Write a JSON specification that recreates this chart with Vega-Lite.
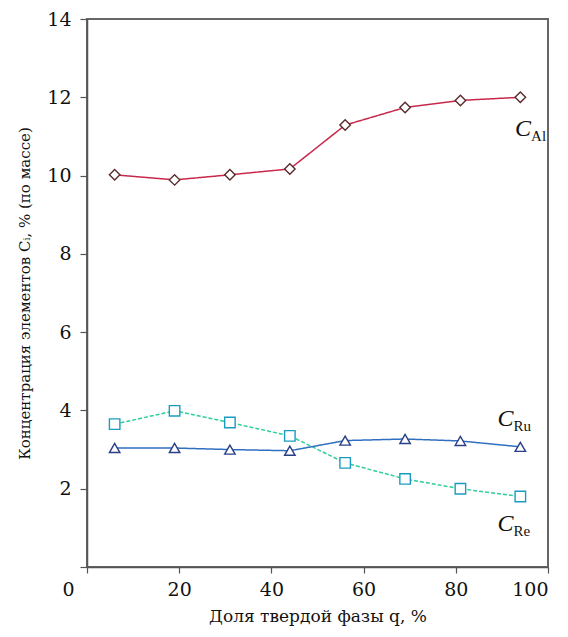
{
  "$schema": "https://vega.github.io/schema/vega-lite/v6.json",
  "width": 461,
  "height": 548,
  "autosize": "none",
  "padding": {"left": 87, "top": 19, "right": 20, "bottom": 70},
  "background": "white",
  "config": {
    "view": {"stroke": "#666666", "strokeWidth": 2},
    "axis": {
      "grid": false
    }
  },
  "datasets": {
    "series": [
      {"q": 6, "c": 10.02, "el": "Al"},
      {"q": 19, "c": 9.89, "el": "Al"},
      {"q": 31, "c": 10.02, "el": "Al"},
      {"q": 44, "c": 10.17, "el": "Al"},
      {"q": 56, "c": 11.29, "el": "Al"},
      {"q": 69, "c": 11.74, "el": "Al"},
      {"q": 81, "c": 11.92, "el": "Al"},
      {"q": 94, "c": 12.0, "el": "Al"},
      {"q": 6, "c": 3.65, "el": "Re"},
      {"q": 19, "c": 3.99, "el": "Re"},
      {"q": 31, "c": 3.69, "el": "Re"},
      {"q": 44, "c": 3.35, "el": "Re"},
      {"q": 56, "c": 2.66, "el": "Re"},
      {"q": 69, "c": 2.25, "el": "Re"},
      {"q": 81, "c": 2.0, "el": "Re"},
      {"q": 94, "c": 1.8, "el": "Re"},
      {"q": 6, "c": 3.04, "el": "Ru"},
      {"q": 19, "c": 3.04, "el": "Ru"},
      {"q": 31, "c": 3.0, "el": "Ru"},
      {"q": 44, "c": 2.97, "el": "Ru"},
      {"q": 56, "c": 3.23, "el": "Ru"},
      {"q": 69, "c": 3.27, "el": "Ru"},
      {"q": 81, "c": 3.22, "el": "Ru"},
      {"q": 94, "c": 3.07, "el": "Ru"}
    ],
    "labels": [
      {"q": 94.6, "c": 11.0, "main": "C", "sub": "Al"},
      {"q": 90.8, "c": 3.6, "main": "C", "sub": "Ru"},
      {"q": 90.8, "c": 0.92, "main": "C", "sub": "Re"}
    ]
  },
  "layer": [
    {
      "data": {"name": "series"},
      "mark": {"type": "line", "strokeWidth": 1.5},
      "encoding": {
        "x": {
          "field": "q", "type": "quantitative",
          "scale": {"domain": [0, 100], "nice": false},
          "axis": {
            "title": "Доля твердой фазы q, %",
            "values": [0, 20, 40, 60, 80, 100],
            "labelFont": "DejaVu Serif",
            "titleFont": "DejaVu Serif",
            "labelFontSize": 19,
            "titleFontSize": 17,
            "labelColor": "#111111",
            "titleColor": "#111111",
            "titleFontWeight": "normal",
            "domainColor": "#555555",
            "domainWidth": 1.5,
            "tickColor": "#555555",
            "tickWidth": 1.2,
            "tickSize": 6,
            "labelPadding": 7,
            "titlePadding": 9,
            "labelOffset": {"condition": {"test": "datum.value == 0", "value": -25}, "value": 0}
          }
        },
        "y": {
          "field": "c", "type": "quantitative",
          "scale": {"domain": [0, 14], "nice": false},
          "axis": {
            "title": "Концентрация элементов Cᵢ, % (по массе)",
            "values": [0, 2, 4, 6, 8, 10, 12, 14],
            "labelExpr": "datum.value == 0 ? '' : datum.label",
            "labelFont": "DejaVu Serif",
            "titleFont": "DejaVu Serif",
            "labelFontSize": 19,
            "titleFontSize": 15,
            "labelColor": "#111111",
            "titleColor": "#111111",
            "titleFontWeight": "normal",
            "domainColor": "#555555",
            "domainWidth": 1.5,
            "tickColor": "#555555",
            "tickWidth": 1.2,
            "tickSize": 7,
            "labelPadding": 9,
            "titlePadding": 14
          }
        },
        "color": {
          "field": "el", "type": "nominal",
          "scale": {"domain": ["Al", "Re", "Ru"], "range": ["#c8284a", "#2ecf9a", "#2f6fc0"]},
          "legend": null
        },
        "strokeDash": {
          "field": "el", "type": "nominal",
          "scale": {"domain": ["Al", "Re", "Ru"], "range": [[1, 0], [4, 2], [1, 0]]},
          "legend": null
        }
      }
    },
    {
      "data": {"name": "series"},
      "mark": {"type": "point", "filled": false, "strokeWidth": 1.4, "fill": "white", "fillOpacity": 1},
      "encoding": {
        "x": {"field": "q", "type": "quantitative"},
        "y": {"field": "c", "type": "quantitative"},
        "shape": {
          "field": "el", "type": "nominal",
          "scale": {"domain": ["Al", "Re", "Ru"], "range": ["diamond", "square", "triangle-up"]},
          "legend": null
        },
        "size": {
          "field": "el", "type": "nominal",
          "scale": {"domain": ["Al", "Re", "Ru"], "range": [110, 110, 130]},
          "legend": null
        },
        "stroke": {
          "field": "el", "type": "nominal",
          "scale": {"domain": ["Al", "Re", "Ru"], "range": ["#5a2a2a", "#1a9cc0", "#2a3f86"]},
          "legend": null
        }
      }
    },
    {
      "data": {"name": "labels"},
      "mark": {"type": "text", "font": "Liberation Serif", "fontStyle": "italic", "fontSize": 24, "align": "center", "baseline": "alphabetic", "color": "#111111"},
      "encoding": {
        "x": {"field": "q", "type": "quantitative"},
        "y": {"field": "c", "type": "quantitative"},
        "text": {"field": "main"}
      }
    },
    {
      "data": {"name": "labels"},
      "mark": {"type": "text", "font": "Liberation Serif", "fontSize": 15, "align": "left", "baseline": "alphabetic", "dx": 8, "dy": 5, "color": "#111111"},
      "encoding": {
        "x": {"field": "q", "type": "quantitative"},
        "y": {"field": "c", "type": "quantitative"},
        "text": {"field": "sub"}
      }
    }
  ]
}
